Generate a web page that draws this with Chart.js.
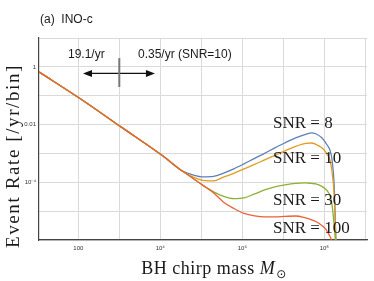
<!DOCTYPE html>
<html><head><meta charset="utf-8">
<script src="https://cdn.jsdelivr.net/npm/chart.js@4/dist/chart.umd.min.js"></script>
<style>html,body{margin:0;padding:0;background:#fff}#wrap{width:374px;height:281px}</style>
</head><body><div id="wrap"><canvas id="c" width="374" height="281"></canvas></div>
<script>
// BH chirp mass (solar masses)
const masses = [11, 110, 1100, 1.1e4, 3.5e4, 6.2e4, 1.1e5, 2.0e5, 3.5e5, 6.2e5, 1.1e6, 2.0e6, 3.5e6, 6.2e6, 1.1e7, 2.0e7, 3.5e7, 4.9e7, 6.2e7, 8.7e7, 1.1e8, 1.23e8, 1.38e8, 1.55e8, 1.74e8, 1.95e8];
// Event rate [/yr/bin]
const snr8   = [0.67, 0.080, 0.0083, 8.6e-4, 2.45e-4, 1.81e-4, 1.54e-4, 1.60e-4, 2.09e-4, 2.92e-4, 4.35e-4, 6.76e-4, 1.01e-3, 1.56e-3, 2.33e-3, 3.48e-3, 4.6e-3, 5.19e-3, 4.80e-3, 3.48e-3, 2.24e-3, 1.77e-3, 1.28e-3, 5.75e-4, 7.8e-5, 4.3e-7];
const snr10  = [0.67, 0.080, 0.0083, 8.6e-4, 2.40e-4, 1.54e-4, 1.16e-4, 1.12e-4, 1.52e-4, 2.04e-4, 2.92e-4, 4.18e-4, 6.0e-4, 8.6e-4, 1.23e-3, 1.77e-3, 2.24e-3, 2.3e-3, 2.07e-3, 1.56e-3, 1.09e-3, 8.26e-4, 5.75e-4, 2.21e-4, 3.5e-5, 4.3e-7];
const snr30  = [0.67, 0.080, 0.0083, 8.6e-4, 2.40e-4, 1.38e-4, 7.8e-5, 4.64e-5, 3.24e-5, 2.70e-5, 2.87e-5, 3.95e-5, 5.44e-5, 6.92e-5, 8.12e-5, 9.16e-5, 9.53e-5, 9.16e-5, 8.8e-5, 7.2e-5, 5.66e-5, 4.64e-5, 3.51e-5, 1.58e-5, 3.2e-6, 4.3e-7];
const snr100 = [0.67, 0.080, 0.0083, 8.6e-4, 2.40e-4, 1.38e-4, 7.8e-5, 4.29e-5, 2.05e-5, 1.24e-5, 8.3e-6, 6.8e-6, 6.29e-6, 6.29e-6, 6.55e-6, 6.8e-6, 5.8e-6, 5.0e-6, 4.39e-6, 3.19e-6, 2.32e-6, 1.75e-6, 1.32e-6, 8.9e-7, 4.3e-7, 2.0e-7];
const seriesNames = ['SNR = 8', 'SNR = 10', 'SNR = 30', 'SNR = 100'];
const seriesColors = ['#5E81B5', '#E19C24', '#8FB032', '#EB6235'];
// tick labels keyed by decade exponent
const xTickLabels = {'2': '100', '4': '10⁴', '6': '10⁶', '8': '10⁸'};
const yTickLabels = {'0': '1', '-2': '0.01', '-4': '10⁻⁴'};
const panelTitle = '(a)  INO-c';
const annLeft = '19.1/yr';
const annRight = '0.35/yr (SNR=10)';
// annotation arrow (data coords)
const arrowX = [130, 7400];
const arrowY = 0.59;
const dividerX = 1000;
const dividerY = [2.0, 0.2];

const allSeries = [snr8, snr10, snr30, snr100];
const datasets = allSeries.map((s, i) => ({
  label: seriesNames[i],
  data: masses.map((m, j) => ({x: m, y: s[j]})),
  borderColor: seriesColors[i],
  backgroundColor: seriesColors[i],
  borderWidth: 1.3,
  pointRadius: 0,
  fill: false,
  cubicInterpolationMode: 'monotone',
  order: 3 - i
}));

const decadeTicks = (lo, hi) => { const t = []; for (let e = lo; e <= hi; e++) t.push({value: Math.pow(10, e)}); return t; };
const expOf = v => String(Math.round(Math.log10(v)));

const decor = {
  id: 'decor',
  afterDatasetsDraw(chart) {
    const ctx = chart.ctx, xs = chart.scales.x, ys = chart.scales.y;
    ctx.save();
    // SNR labels
    ctx.fillStyle = '#1a1a1a';
    ctx.font = '17px "Liberation Serif"';
    ctx.textAlign = 'left'; ctx.textBaseline = 'middle';
    const labY = [124, 159, 201, 229];
    seriesNames.forEach((n, i) => ctx.fillText(n, 273, labY[i]));
    // annotation
    ctx.font = '12px "Liberation Sans"';
    ctx.fillText(annLeft, 68, 55);
    ctx.fillText(annRight, 138, 55);
    const ax0 = xs.getPixelForValue(arrowX[0]), ax1 = xs.getPixelForValue(arrowX[1]), ay = ys.getPixelForValue(arrowY);
    ctx.strokeStyle = '#111'; ctx.lineWidth = 1.3;
    ctx.beginPath(); ctx.moveTo(ax0 + 6, ay); ctx.lineTo(ax1 - 6, ay); ctx.stroke();
    ctx.fillStyle = '#111';
    ctx.beginPath(); ctx.moveTo(ax0, ay); ctx.lineTo(ax0 + 9, ay - 3.5); ctx.lineTo(ax0 + 9, ay + 3.5); ctx.closePath(); ctx.fill();
    ctx.beginPath(); ctx.moveTo(ax1, ay); ctx.lineTo(ax1 - 9, ay - 3.5); ctx.lineTo(ax1 - 9, ay + 3.5); ctx.closePath(); ctx.fill();
    const dx = xs.getPixelForValue(dividerX);
    ctx.strokeStyle = '#777'; ctx.lineWidth = 2;
    ctx.beginPath(); ctx.moveTo(dx, ys.getPixelForValue(dividerY[0])); ctx.lineTo(dx, ys.getPixelForValue(dividerY[1])); ctx.stroke();
    ctx.restore();
  },
  afterDraw(chart) {
    const ctx = chart.ctx;
    ctx.save();
    ctx.fillStyle = '#1a1a1a';
    // panel title
    ctx.font = '12px "Liberation Sans"';
    ctx.textAlign = 'left'; ctx.textBaseline = 'middle';
    ctx.fillText(panelTitle, 40, 20);
    // y title
    ctx.save();
    ctx.translate(14, 156); ctx.rotate(-Math.PI / 2);
    ctx.font = '19px "Liberation Serif"';
    ctx.letterSpacing = '1.6px';
    ctx.textAlign = 'center';
    ctx.fillText('Event Rate [/yr/bin]', 0, 0);
    ctx.restore();
    // x title
    ctx.letterSpacing = '0.5px';
    const t1 = 'BH chirp mass ', t2 = 'M', t3 = '⊙';
    ctx.font = '18px "Liberation Serif"'; const w1 = ctx.measureText(t1).width;
    ctx.font = 'italic 18px "Liberation Serif"'; const w2 = ctx.measureText(t2).width;
    ctx.font = '12px "DejaVu Sans"'; const w3 = ctx.measureText(t3).width;
    let x0 = 214 - (w1 + w2 + w3 + 1) / 2;
    ctx.textBaseline = 'alphabetic';
    ctx.font = '18px "Liberation Serif"'; ctx.fillText(t1, x0, 274);
    ctx.font = 'italic 18px "Liberation Serif"'; ctx.fillText(t2, x0 + w1, 274);
    ctx.font = '12px "DejaVu Sans"'; ctx.fillText(t3, x0 + w1 + w2 + 1, 278);
    ctx.restore();
  }
};

new Chart(document.getElementById('c'), {
  type: 'line',
  data: {datasets},
  options: {
    responsive: false, animation: false, devicePixelRatio: 1,
    layout: {padding: {left: 0, top: 38, right: 7, bottom: 0}},
    plugins: {legend: {display: false}, tooltip: {enabled: false}},
    scales: {
      x: {
        type: 'logarithmic', min: 11, max: 1.1e9,
        afterBuildTicks: s => { s.ticks = decadeTicks(2, 9); },
        afterFit: s => { s.height = 41; },
        grid: {color: '#dadada', lineWidth: 1, drawTicks: false},
        border: {color: '#444', width: 1.2},
        ticks: {autoSkip: false, maxRotation: 0, padding: 5, color: '#333', font: {family: 'Liberation Sans', size: 6},
          callback: v => xTickLabels[expOf(v)] || ''}
      },
      y: {
        type: 'logarithmic', min: 1e-6, max: 10,
        afterBuildTicks: s => { s.ticks = decadeTicks(-6, 1); },
        afterFit: s => { s.width = 39; },
        grid: {color: '#dadada', lineWidth: 1, drawTicks: false},
        border: {color: '#444', width: 1.2},
        ticks: {autoSkip: false, padding: 3, color: '#333', font: {family: 'Liberation Sans', size: 6},
          callback: v => yTickLabels[expOf(v)] || ''}
      }
    }
  },
  plugins: [decor]
});
</script></body></html>
